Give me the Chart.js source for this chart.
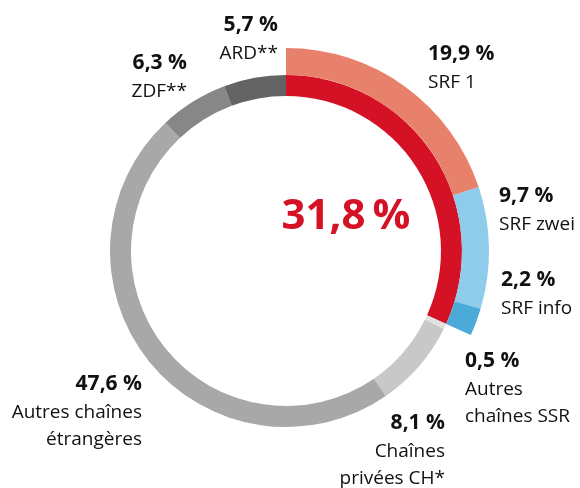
<!DOCTYPE html>
<html>
<head>
<meta charset="utf-8">
<script src="https://cdn.jsdelivr.net/npm/chart.js@4"></script>
<style>
  html, body { margin: 0; padding: 0; background: #fff; }
  #wrap { width: 580px; height: 488px; }
</style>
</head>
<body>
<div id="wrap"><canvas id="share"></canvas></div>
<script>
// SRF channels (outer ring) and everything else (inner ring)
const srfLabels = ['SRF 1', 'SRF zwei', 'SRF info'];
const srfValues = [19.9, 9.7, 2.2];
const otherLabels = [['Autres', 'chaînes SSR'], ['Chaînes', 'privées CH*'], ['Autres chaînes', 'étrangères'], ['ZDF**'], ['ARD**']];
const otherValues = [0.5, 8.1, 47.6, 6.3, 5.7];

const srfColors = ['#e8816b', '#8fcbea', '#4caad9'];
const srfTotalColor = '#d51125';
const otherColors = ['#e2e2e2', '#c8c8c8', '#a8a8a8', '#878787', '#636363'];

const srfTotal = srfValues.reduce((a, b) => a + b, 0);

function fmt(v, sep) {
  return v.toFixed(1).replace('.', ',') + sep + '%';
}

// where each label sits, relative to the ring centre (dx, first baseline dy, align)
const labelPos = {
  'SRF 1': [142, -191, 'left'],
  'SRF zwei': [213, -49, 'left'],
  'SRF info': [215, 35, 'left'],
  'Autres chaînes SSR': [179, 116, 'left'],
  'Chaînes privées CH*': [159, 178, 'right'],
  'Autres chaînes étrangères': [-144, 139, 'right'],
  'ZDF**': [-99, -182, 'right'],
  'ARD**': [-8, -220, 'right']
};

const FONT = '"Open Sans", "Noto Sans", sans-serif';

const labelPlugin = {
  id: 'ringLabels',
  afterDraw(chart) {
    const ctx = chart.ctx;
    const arc = chart.getDatasetMeta(0).data[0];
    const cx = arc.x, cy = arc.y;
    const items = [];
    srfLabels.forEach((l, i) => items.push([[l], srfValues[i]]));
    otherLabels.forEach((l, i) => items.push([l, otherValues[i]]));
    ctx.save();
    ctx.fillStyle = '#111';
    ctx.textBaseline = 'alphabetic';
    items.forEach(([lines, v]) => {
      const p = labelPos[lines.join(' ')];
      const x = cx + p[0];
      let y = cy + p[1];
      ctx.textAlign = p[2];
      ctx.font = 'bold 21px ' + FONT;
      ctx.fillText(fmt(v, ' '), x, y);
      ctx.font = '19px ' + FONT;
      lines.forEach(t => {
        y += 27.5;
        ctx.fillText(t, x, y);
      });
    });
    // big SRF share in the middle
    ctx.fillStyle = srfTotalColor;
    ctx.font = 'bold 42px ' + FONT;
    ctx.textAlign = 'center';
    ctx.fillText(fmt(srfTotal, '\u2009'), cx + 60, cy - 22);
    ctx.restore();
  }
};

new Chart(document.getElementById('share'), {
  type: 'doughnut',
  data: {
    labels: [...srfLabels, 'Rest'],
    datasets: [
      {
        data: [...srfValues, 100 - srfTotal],
        backgroundColor: [...srfColors, 'rgba(0,0,0,0)'],
        borderWidth: 0,
        weight: 27
      },
      {
        data: [srfTotal, ...otherValues],
        backgroundColor: [srfTotalColor, ...otherColors],
        borderWidth: 0,
        weight: 21
      }
    ]
  },
  options: {
    responsive: true,
    maintainAspectRatio: false,
    animation: false,
    events: [],
    radius: 203,
    cutout: '76.35%',
    layout: { padding: { left: 0, right: 8, top: 14, bottom: 0 } },
    plugins: {
      legend: { display: false },
      tooltip: { enabled: false }
    }
  },
  plugins: [labelPlugin]
});
</script>
</body>
</html>
